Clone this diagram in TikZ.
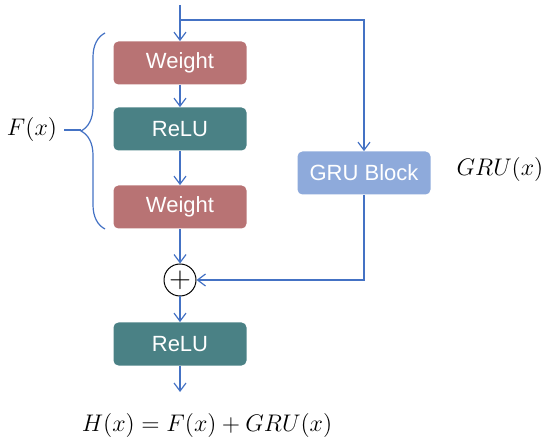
\documentclass[tikz,border=0pt]{standalone}
\usepackage{fontspec}
\newfontfamily\boxfont{Liberation Sans}
\usetikzlibrary{arrows.meta,calc,positioning,decorations.pathreplacing}

\definecolor{linkblue}{HTML}{4472C4}
\definecolor{weightred}{HTML}{B87374}
\definecolor{reluteal}{HTML}{4A8185}
\definecolor{grublue}{HTML}{8EAADB}

\begin{document}
\begin{tikzpicture}[x=0.5pt,y=-0.5pt,>={Straight Barb[length=4pt,width=6pt]},
  block/.style={rounded corners=2.5pt,minimum width=66.5pt,minimum height=21.5pt,
    inner sep=0pt,text=white,font=\boxfont\fontsize{11}{13}\selectfont},
  weightbox/.style={block,fill=weightred},
  relubox/.style={block,fill=reluteal},
  grubox/.style={block,fill=grublue},
  link/.style={linkblue,line width=0.6pt},
  mathlabel/.style={font=\fontsize{12}{14}\selectfont}]
  \useasboundingbox (0,0) rectangle (550,442);
  % main path
  \node[weightbox] (w1) at (180,63) {Weight};
  \node[relubox] (r1) at (180,129) {ReLU};
  \node[weightbox] (w2) at (180,207) {Weight};
  \node[circle,draw,line width=0.5pt,minimum size=16pt,inner sep=0pt,
    font=\fontsize{14}{14}\selectfont] (add) at (180,280) {$+$};
  \node[relubox] (r2) at (180,344) {ReLU};
  \node[grubox] (gru) at (364,173) {GRU Block};
  \coordinate (in) at (180,5);
  \coordinate (split) at (180,20);
  \coordinate (out) at (180,392);
  \draw[link,->] (in) -- (w1);
  \draw[link,->] (split) -| (gru);
  \draw[link,->] (w1) -- (r1);
  \draw[link,->] (r1) -- (w2);
  \draw[link,->] (w2) -- (add);
  \draw[link,->] (gru) |- (add);
  \draw[link,->] (add) -- (r2);
  \draw[link,->] (r2) -- (out);
  % labels
  \draw[link,decorate,decoration={brace,amplitude=12pt}] (105,229) -- (105,33);
  \coordinate (tip) at (81,130);
  \node[mathlabel] (fx) at (32,130) {$F(x)$};
  \draw[link] (fx) -- (tip);
  \node[mathlabel] (gx) at (500,170) {$GRU(x)$};
  \node[mathlabel] (hx) at (207,425) {$H(x) = F(x) + GRU(x)$};
\end{tikzpicture}
\end{document}
